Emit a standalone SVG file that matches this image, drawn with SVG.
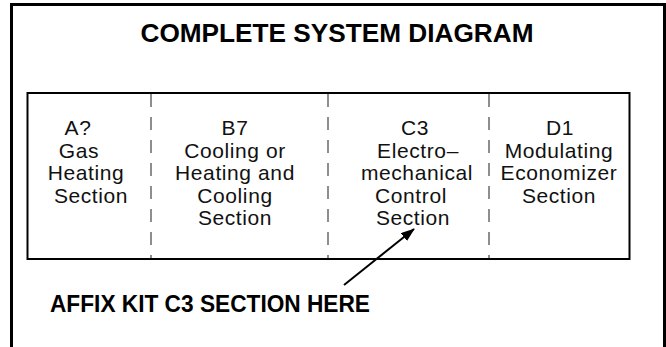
<svg xmlns="http://www.w3.org/2000/svg" width="666" height="347" viewBox="0 0 666 347">
  <defs>
    <style>
      .frame { fill: none; stroke: #000; }
      .divider { stroke: #444; stroke-width: 1.2; stroke-dasharray: 13 10; fill: none; }
      .title { font-family: "Liberation Sans", Arial, sans-serif; font-weight: bold; fill: #000; }
      .lbl { font-family: "Liberation Sans", Arial, sans-serif; font-size: 21px; letter-spacing: 0.6px; fill: #111; text-anchor: middle; }
    </style>
    <marker id="arrow" viewBox="0 0 14 10" refX="13" refY="5" markerWidth="14" markerHeight="10" markerUnits="userSpaceOnUse" orient="auto">
      <path d="M0,0 L14,5 L0,10 Z" fill="#000"/>
    </marker>
  </defs>
  <rect width="666" height="347" fill="#fff"/>

  <g id="outer-frame">
    <path class="frame" d="M11.5,347 V4.5 H664.5 V347" stroke-width="3"/>
  </g>

  <g id="title">
    <text class="title" x="337" y="41.5" font-size="25.5" text-anchor="middle" textLength="393" lengthAdjust="spacingAndGlyphs">COMPLETE SYSTEM DIAGRAM</text>
  </g>

  <g id="system-box">
    <rect class="frame" x="27.5" y="93" width="602" height="166" stroke-width="2"/>
  </g>

  <g id="dividers">
    <line class="divider" x1="151" y1="94" x2="151" y2="258"/>
    <line class="divider" x1="328" y1="94" x2="328" y2="258"/>
    <line class="divider" x1="489" y1="94" x2="489" y2="258"/>
  </g>

  <g id="section-a">
    <text class="lbl"><tspan x="78" y="135">A?</tspan><tspan x="79" y="157.5">Gas</tspan><tspan x="86" y="180">Heating</tspan><tspan x="91" y="202.5">Section</tspan></text>
  </g>

  <g id="section-b">
    <text class="lbl"><tspan x="235" y="135">B7</tspan><tspan x="235" y="157.5">Cooling or</tspan><tspan x="235" y="180">Heating and</tspan><tspan x="235" y="202.5">Cooling</tspan><tspan x="235" y="225">Section</tspan></text>
  </g>

  <g id="section-c">
    <text class="lbl"><tspan x="415" y="135">C3</tspan><tspan x="418" y="157.5">Electro–</tspan><tspan x="417" y="180">mechanical</tspan><tspan x="411" y="202.5">Control</tspan><tspan x="413" y="225">Section</tspan></text>
  </g>

  <g id="section-d">
    <text class="lbl"><tspan x="560" y="135">D1</tspan><tspan x="559" y="157.5">Modulating</tspan><tspan x="559" y="180">Economizer</tspan><tspan x="559" y="202.5">Section</tspan></text>
  </g>

  <g id="connectors">
    <line x1="344" y1="285" x2="414" y2="229" stroke="#000" stroke-width="2" marker-end="url(#arrow)"/>
  </g>

  <g id="callout">
    <text class="title" x="50" y="311.5" font-size="23" textLength="320" lengthAdjust="spacingAndGlyphs">AFFIX KIT C3 SECTION HERE</text>
  </g>
</svg>
